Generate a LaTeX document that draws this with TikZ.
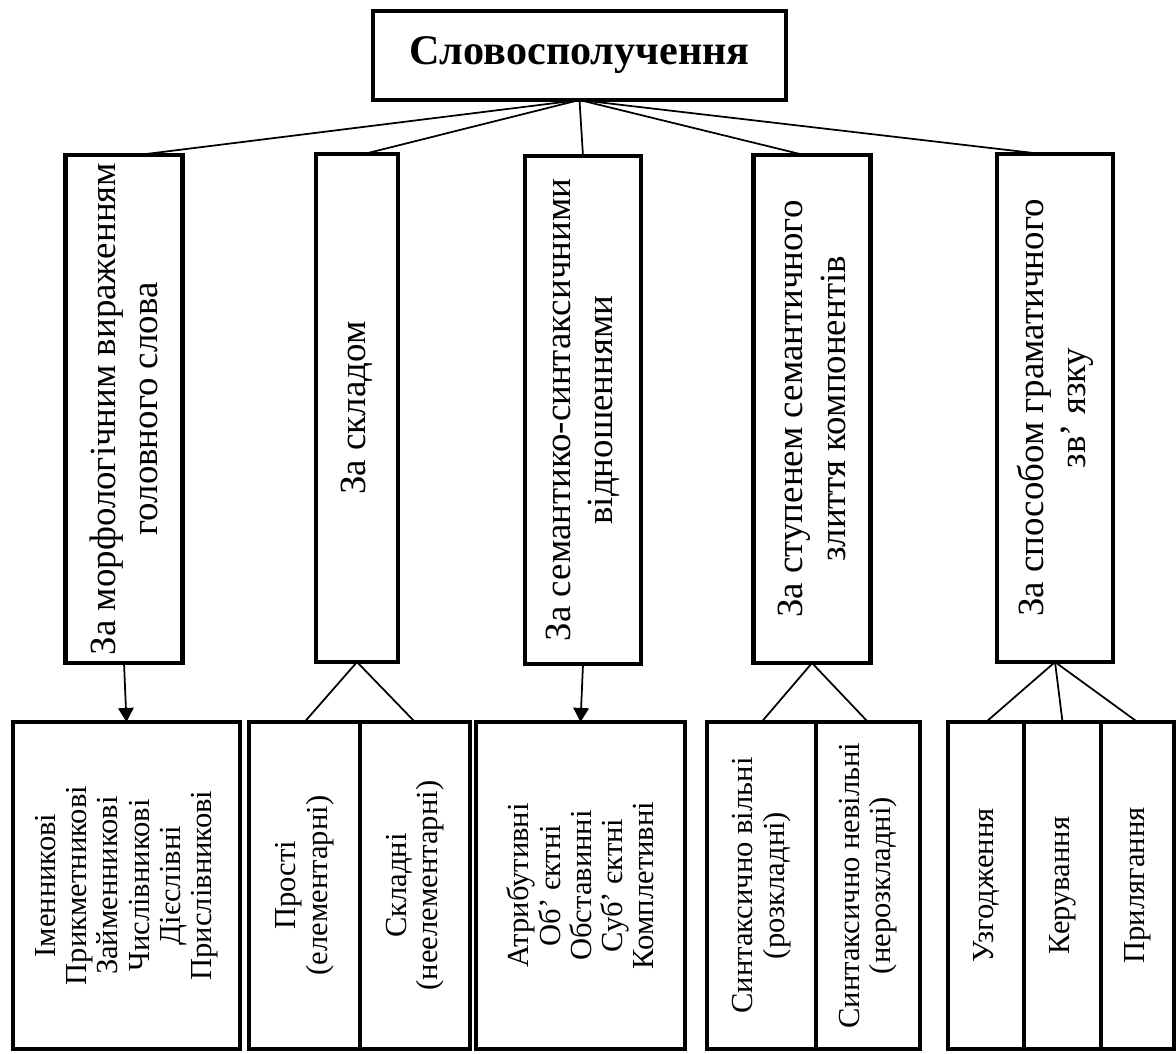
\documentclass[tikz,border=0pt]{standalone}
\usepackage{fontspec}
\setmainfont{Liberation Serif}
\usetikzlibrary{arrows.meta}
\tikzset{
	box/.style = {draw, line width=1.4pt, inner sep=0pt, outer sep=0pt, align=center},
	kat/.style = {box, rotate=90, minimum width=5.08cm, minimum height=1.17cm, font=\fontsize{10.5}{12}\selectfont},
	low/.style = {box, rotate=90, minimum width=3.27cm, font=\fontsize{8.7}{8.9}\selectfont},
	ln/.style = {line width=0.5pt},
	arr/.style = {ln, -{Triangle[length=4pt, width=4.4pt]}}
}

\begin{document}
\begin{tikzpicture}
				\useasboundingbox (0,0) rectangle (11.76,-10.53);
				\node (S)[box, minimum width=4.13cm, minimum height=0.89cm, font=\fontsize{12}{14}\selectfont\bfseries] at (5.795,-0.555){Словосполучення};
				%
				\node (A)[kat] at (1.24,-4.09){За морфологічним вираженням\\головного слова};
				\node (B)[kat, minimum height=0.82cm] at (3.57,-4.08){За складом};
				\node (C)[kat, minimum height=1.16cm] at (5.83,-4.10){За семантико-синтаксичними\\відношеннями};
				\node (D)[kat] at (8.12,-4.09){За ступенем семантичного\\злиття компонентів};
				\node (E)[kat, minimum height=1.16cm] at (10.55,-4.08){За способом граматичного\\зв’ язку};
				%
				\draw[ln] (S.south) -- ([xshift=0.14cm]A.east);
				\draw[ln] (S.south) -- ([xshift=0.07cm]B.east);
				\draw[ln] (S.south) -- (C.east);
				\draw[ln] (S.south) -- ([xshift=-0.08cm]D.east);
				\draw[ln] (S.south) -- ([xshift=-0.13cm]E.east);
				%
				\node (A1)[low, minimum height=2.27cm] at (1.265,-8.855){Іменникові\\Прикметникові\\Займенникові\\Числівникові\\Дієслівні\\Прислівникові};
				\node (B1)[low, minimum height=1.11cm] at (3.045,-8.855){Прості\\(елементарні)};
				\node (B2)[low, minimum height=1.10cm, anchor=north] at (B1.south){Складні\\(неелементарні)};
				\node (C1)[low, minimum height=2.09cm] at (5.805,-8.855){Атрибутивні\\Об’ єктні\\Обставинні\\Суб’ єктні\\Комплетивні};
				\node (D1)[low, minimum height=1.09cm] at (7.615,-8.855){Синтаксично вільні\\(розкладні)};
				\node (D2)[low, minimum height=1.04cm, anchor=north] at (D1.south){Синтаксично невільні\\(нерозкладні)};
				\node (E1)[low, minimum height=0.76cm] at (9.86,-8.855){Узгодження};
				\node (E2)[low, minimum height=0.77cm, anchor=north] at (E1.south){Керування};
				\node (E3)[low, minimum height=0.73cm, anchor=north] at (E2.south){Прилягання};
				%
				\draw[arr] (A.west) -- (A1.east);
				\draw[ln] (B.west) -- (B1.east);
				\draw[ln] (B.west) -- (B2.east);
				\draw[arr] (C.west) -- (C1.east);
				\draw[ln] (D.west) -- (D1.east);
				\draw[ln] (D.west) -- (D2.east);
				\draw[ln] (E.west) -- (E1.east);
				\draw[ln] (E.west) -- (E2.east);
				\draw[ln] (E.west) -- (E3.east);
			\end{tikzpicture}
\end{document}
